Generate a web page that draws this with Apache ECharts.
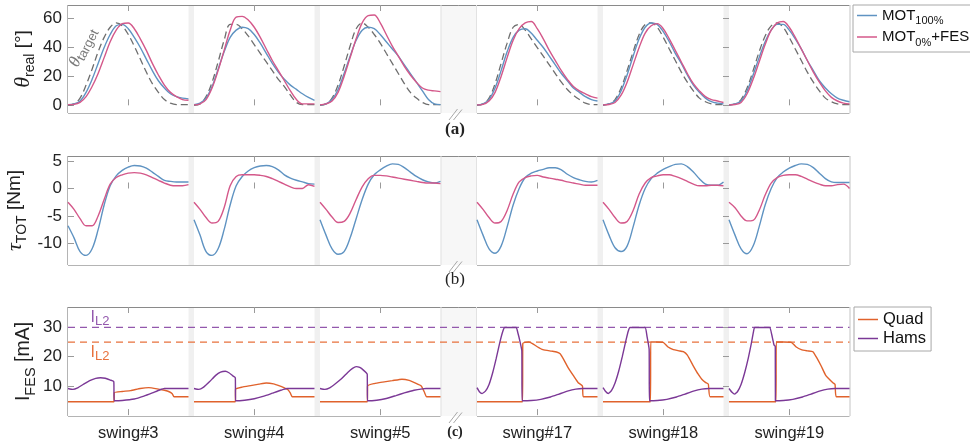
<!DOCTYPE html>
<html>
<head>
<meta charset="utf-8">
<script src="https://cdn.jsdelivr.net/npm/echarts@6.0.0/dist/echarts.min.js"></script>
<style>
  html, body { margin: 0; padding: 0; background: #fff; }
  #chart { width: 970px; height: 445px; }
</style>
</head>
<body>
<div id="chart"></div>
<script>
// ---- data ----
const swingNames = ['swing#3', 'swing#4', 'swing#5', 'swing#17', 'swing#18', 'swing#19'];
const gaitPct = [0, 5, 10, 15, 20, 25, 30, 35, 40, 45, 50, 55, 60, 65, 70, 75, 80, 85, 90, 95, 100];
const thetaTicks = [0, 20, 40, 60];
const tauTicks = [-10, -5, 0, 5];
const iFesTicks = [10, 20, 30];
const limitHams = 30; // purple I_L2
const limitQuad = 25; // orange I_L2

// theta [deg], one row per swing
const thetaTarget = [
  [0, 1, 5, 14, 25, 37, 47, 54, 57, 55, 49, 41, 32, 23, 15, 9, 4, 1.5, 0.5, 0.5, 0.5],
  [0, 1, 6, 16, 30, 45, 56, 56, 53, 48, 42, 36, 30, 24, 18, 13, 7, 2, 0.5, 0.5, 0.5],
  [0, 1, 5, 14, 27, 41, 53, 57, 54, 49, 43, 36, 29, 22, 15, 9, 5, 2, 0.5, 0.5, 0.5],
  [0, 1, 5, 15, 29, 43, 54, 56, 52, 46, 40, 34, 28, 22, 16, 11, 7, 4, 1.5, 0.5, 0.5],
  [0, 1, 4, 12, 24, 37, 49, 56, 57, 54, 47, 39, 31, 23, 16, 10, 5, 2.5, 1, 0.5, 0.5],
  [0, 1, 4, 12, 24, 37, 48, 55, 57, 54, 47, 39, 31, 23, 16, 10, 5, 2.5, 1, 0.5, 0.5]
];
const thetaMot100 = [
  [0.5, 1, 3, 9, 18, 29, 40, 49, 55, 56, 53, 47, 40, 32, 24, 17, 12, 8, 6, 5, 4.5],
  [0.5, 1.5, 5, 13, 25, 37, 47, 52, 54, 53, 49, 43, 36, 29, 23, 18, 14, 11, 8, 5.5, 3.5],
  [0.3, 1, 4, 11, 22, 34, 45, 52, 54, 53, 49, 44, 39, 34, 28, 22, 16, 10, 4, 1, 0.5],
  [0.3, 1, 4, 12, 24, 37, 47, 52, 53, 50, 45, 40, 34, 28, 22, 17, 12, 9, 6, 4, 3],
  [0.3, 1, 3, 10, 21, 34, 46, 54, 57, 56, 51, 44, 36, 29, 21, 14, 9, 5, 2.5, 1.5, 1],
  [0.3, 1, 3, 10, 21, 33, 44, 52, 56, 56, 52, 46, 39, 31, 24, 17, 12, 8, 5, 3.5, 2.5]
];
const thetaMot0Fes = [
  [0.5, 0.7, 2, 6, 13, 22, 33, 44, 52, 56.5, 57, 53, 46, 38, 29, 21, 14, 9, 6, 4, 3.5],
  [0.3, 1, 4, 12, 24, 38, 52, 61, 61.5, 59, 54, 47, 39, 31, 24, 17, 10, 4, 1, 1, 1],
  [0.3, 1, 3, 9, 20, 33, 46, 57, 62, 62.5, 57, 49, 41, 34, 27, 21, 16, 12, 10.5, 10, 9.5],
  [0.3, 0.7, 3, 9, 20, 33, 45, 53, 57, 58, 53, 46, 38, 31, 24, 18, 13, 10, 8, 6, 5],
  [0.3, 0.6, 2, 7, 16, 28, 40, 50, 55, 56.5, 53, 46, 38, 30, 22, 15, 10, 6, 4, 3, 2],
  [0.3, 0.6, 2, 8, 18, 30, 42, 52, 57, 58, 54, 47, 39, 31, 23, 16, 10, 5.5, 3, 1.5, 1]
];

// tau_TOT [Nm]
const tauMot100 = [
  [-6.8, -9, -11.5, -12.2, -11, -7.5, -3, 0.5, 2.3, 3.3, 3.9, 4.2, 4.1, 3.7, 3, 2.2, 1.5, 1.3, 1.2, 1.2, 1.2],
  [-5.7, -8.5, -11.5, -12.2, -11, -7.5, -3, 0.5, 2.2, 3.2, 3.8, 4.1, 4.2, 4, 3.4, 2.5, 1.9, 1.5, 1.2, 0.9, 0.8],
  [-5.7, -8.5, -11, -12, -11.5, -9, -5.5, -2, 0.8, 2.5, 3.4, 4.1, 4.5, 4.4, 3.8, 3, 2.2, 1.6, 1.2, 1, 1.3],
  [-5.7, -8.5, -11, -11.8, -10.5, -7, -3, 0, 2, 2.8, 3.2, 3.5, 3.8, 3.8, 3.4, 2.6, 2, 1.6, 1.3, 1.2, 1.5],
  [-5.7, -8.5, -10.8, -11.5, -10.5, -7, -3, 0, 1.8, 2.8, 3.5, 4, 4.4, 4.5, 4, 3, 1.8, 0.8, 0.6, 0.6, 1.2],
  [-5.7, -8.5, -11, -11.9, -10.5, -7, -3, 0, 2, 3, 3.7, 4.2, 4.5, 4.4, 3.8, 2.8, 1.8, 1.2, 1.1, 1.1, 1.1]
];
const tauMot0Fes = [
  [-2.5, -3.8, -5.5, -6.8, -6.8, -5, -2, 0.8, 2, 2.5, 2.8, 2.9, 2.8, 2.5, 2, 1.5, 1, 0.6, 0.5, 0.5, 0.7],
  [-2.5, -3.8, -5.3, -6.3, -6, -3.5, 0.5, 2.2, 2.5, 2.5, 2.5, 2.4, 2.2, 1.8, 1.3, 0.8, 0.3, 0, 0, 0.7, 0.4],
  [-2.5, -3.8, -5.2, -6.2, -6, -4.5, -2, 0.3, 1.8, 2.4, 2.4, 2.3, 2.1, 1.9, 1.7, 1.5, 1.3, 1.1, 1, 1, 0.9],
  [-2.5, -3.8, -5.3, -6.3, -6, -4, -1, 1.2, 2, 2.3, 2.4, 2.1, 1.9, 1.7, 1.5, 1.2, 1, 0.8, 0.6, 0.6, 0.6],
  [-2.5, -3.8, -5.3, -6.3, -6, -4, -1, 1, 2, 2.3, 2.5, 2.5, 2.2, 1.8, 1.3, 0.8, 0.5, 0.5, 0.6, 0.6, 0.5],
  [-2.5, -3.5, -5, -5.9, -5.8, -4, -1.2, 1, 2, 2.4, 2.5, 2.5, 2.2, 1.7, 1.2, 0.8, 0.5, 0.5, 0.7, 0.8, 0]
];

// I_FES [mA], [% swing, mA]
const iQuad = [
  [[0, 4.6], [38.2, 4.6], [38.4, 7.7], [45, 8.1], [52, 8.4], [60, 9.1], [67, 9.4], [74, 9], [80, 8.5], [84, 8], [86.5, 7.3], [88, 6.3], [100, 6.3]],
  [[0, 4.6], [34.3, 4.6], [34.5, 8.9], [40, 9.6], [47, 10.1], [54, 10.6], [60, 11], [66, 10.7], [71, 10], [75, 9.3], [78, 8.7], [80, 7.5], [81.5, 6.3], [100, 6.3]],
  [[0, 4.6], [39.3, 4.6], [39.5, 10], [45, 10.8], [52, 11.3], [60, 11.8], [68, 12.3], [74, 11.9], [79, 11], [84, 10], [86.5, 8], [88.5, 6.3], [100, 6.3]],
  [[0, 4.6], [37.8, 4.6], [38, 24.5], [40, 24.9], [43, 25], [46, 24.5], [50, 23.4], [54.7, 22.4], [61.7, 21.9], [66, 21.6], [69, 21], [72, 19], [76, 16], [80, 13.5], [84, 11.1], [87.5, 10], [88.2, 6.3], [100, 6.3]],
  [[0, 4.6], [39.4, 4.6], [39.6, 25], [44, 25], [50, 24.9], [54, 23.3], [58.4, 22.4], [63, 22], [66.7, 21.7], [70, 20.5], [75, 16.8], [79, 14], [82, 12.3], [85, 11.2], [87.4, 10.6], [88.8, 6.3], [100, 6.3]],
  [[0, 4.6], [39, 4.6], [39.2, 25], [45, 25], [51.7, 24.9], [55.8, 23.3], [60, 22.4], [65, 22], [69.6, 21.7], [73, 19.5], [76.5, 16.8], [80, 13.8], [82, 12.8], [86.2, 11.1], [88, 10.5], [89, 6.3], [100, 6.3]]
];
const iHams = [
  [[0, 9.1], [4, 8.8], [8, 9.3], [13, 10.6], [18, 11.8], [23, 12.6], [27, 12.8], [31, 12.6], [35, 12], [38, 11.5], [38.3, 4.9], [45, 5], [55, 5.5], [63, 6.5], [70, 7.6], [76, 8.6], [80, 9.1], [100, 9.1]],
  [[0, 9.1], [4, 8.8], [8, 9.6], [13, 11.5], [18, 13.6], [22, 14.7], [26, 15], [29, 14.5], [32, 13.5], [34.3, 12.8], [34.5, 4.9], [42, 5.1], [50, 5.6], [58, 6.5], [65, 7.5], [72, 8.5], [77, 9.1], [100, 9.1]],
  [[0, 9.1], [4, 8.8], [8, 9.3], [13, 10.8], [18, 12.5], [23, 14.6], [27, 16], [30, 16.6], [33, 16.3], [36, 15.4], [39.2, 14], [39.4, 4.9], [47, 5.1], [55, 5.7], [63, 6.7], [70, 7.6], [78, 8.5], [85, 9], [88, 9.1], [100, 9.1]],
  [[0, 9.4], [2, 8], [4.2, 7.4], [7, 8.2], [10, 10.5], [13, 14.5], [16, 19.5], [19, 25], [21.5, 28.8], [23, 30], [32.5, 30], [34, 28], [35.5, 25.5], [37.2, 22], [37.4, 4.9], [45, 5], [53, 5.4], [61, 6.2], [68, 7.2], [75, 8.2], [82, 8.9], [88, 9.1], [100, 9.1]],
  [[0, 9.4], [2, 8.2], [4.4, 7.4], [7, 8.4], [10, 11], [13, 15], [16, 20], [19, 25.5], [21, 28.8], [22.4, 30], [34.9, 30], [36.5, 27], [38.3, 22.5], [38.5, 4.9], [45, 5], [53, 5.4], [61, 6.2], [68, 7.2], [75, 8.2], [82, 8.9], [88, 9.1], [100, 9.1]],
  [[0, 9.1], [2.5, 7.8], [4.7, 7.2], [7, 8], [10, 10.5], [13, 14.5], [16, 19.5], [18.5, 24.5], [20.3, 28.5], [21.3, 30], [33.7, 30], [35.5, 27.5], [37.3, 24.1], [38.4, 23.5], [38.5, 4.9], [45, 5], [53, 5.4], [61, 6.2], [68, 7.2], [75, 8.2], [82, 8.9], [88, 9.1], [100, 9.1]]
];

// ---- layout / style ----
const FONT = '"Liberation Sans", Helvetica, Arial, sans-serif';
const SERIF = '"Liberation Serif", "Times New Roman", serif';
const TXT = '#222';
const AXIS_GRAY = '#9a9a9a';
const C_MOT100 = '#5f93c2';
const C_FES = '#d4588a';
const C_TARGET = '#6e6e6e';
const C_QUAD = '#e0622c';
const C_HAMS = '#7b3896';
const C_LIM_HAMS = '#9358ad';
const C_LIM_QUAD = '#e8713c';

const PANEL_LEFT = [68, 194, 320, 477, 603, 729];
const PANEL_W = 120.5;
const ROW_TOP = [5, 156, 307];
const ROW_H = [108, 109, 109];
const ROW_RANGE = [[-5.3, 69.4], [-13.95, 5.93], [-0.3, 37]];
const ROW_TICKS = [thetaTicks, tauTicks, iFesTicks];
const NAME_GAP = [31, 39, 30];
const ROW_TITLE = ['{t|θ}{s|real}{m| [°]}', '{t|τ}{s|TOT}{m| [Nm]}', '{m|I}{s|FES}{m| [mA]}'];
const TAGS = [['(a)', 'bold', 17, 130], ['(b)', 'normal', 17, 280], ['(c)', 'bold', 14, 432]];

function richTitle(size) {
  return {
    t: { fontSize: size + 3, fontStyle: 'italic', fontFamily: SERIF, lineHeight: 28, color: TXT },
    m: { fontSize: size, fontFamily: FONT, lineHeight: 28, color: TXT },
    s: { fontSize: size - 5, fontFamily: FONT, lineHeight: 14, verticalAlign: 'bottom', color: TXT }
  };
}

const curve = (vals) => vals.map((v, i) => [gaitPct[i], v]);

const grid = [], xAxis = [], yAxis = [], series = [];

for (let r = 0; r < 3; r++) {
  for (let p = 0; p < 6; p++) {
    const g = grid.length;
    grid.push({ left: PANEL_LEFT[p], top: ROW_TOP[r], width: PANEL_W, height: ROW_H[r], outerBoundsMode: 'none' });
    const tick = { show: true, inside: true, length: 6, customValues: [50], lineStyle: { color: AXIS_GRAY, width: 1 } };
    xAxis.push({
      gridIndex: g, type: 'value', min: 0, max: 100, position: 'bottom',
      axisLine: { show: false }, splitLine: { show: false }, axisTick: tick,
      axisLabel: r === 2
        ? { show: true, customValues: [50], formatter: () => swingNames[p], margin: 9, fontSize: 16.5, fontFamily: FONT, color: TXT }
        : { show: false }
    });
    xAxis.push({
      gridIndex: g, type: 'value', min: 0, max: 100, position: 'top',
      axisLine: { show: false }, splitLine: { show: false }, axisTick: tick, axisLabel: { show: false }
    });
    yAxis.push({
      gridIndex: g, type: 'value', min: ROW_RANGE[r][0], max: ROW_RANGE[r][1],
      position: p === 5 ? 'right' : 'left', show: p === 0 || p === 5,
      axisLine: { show: false }, splitLine: { show: false },
      axisTick: { show: true, inside: true, length: 6, customValues: ROW_TICKS[r], lineStyle: { color: AXIS_GRAY } },
      axisLabel: { show: p === 0, customValues: ROW_TICKS[r], margin: 6, fontSize: 17, fontFamily: FONT, color: TXT },
      name: p === 0 ? ROW_TITLE[r] : '', nameLocation: 'middle', nameRotate: 90, nameGap: NAME_GAP[r],
      nameTextStyle: { rich: richTitle(r === 2 ? 19.5 : 19) }
    });
  }
}

// overlay grid over the whole bottom row for the I_L2 limits
const ovl = grid.length;
grid.push({ left: PANEL_LEFT[0], top: ROW_TOP[2], width: PANEL_LEFT[5] + PANEL_W - PANEL_LEFT[0], height: ROW_H[2], outerBoundsMode: 'none' });
xAxis.push({ gridIndex: ovl, type: 'value', min: 0, max: 100, show: false });
yAxis.push({ gridIndex: ovl, type: 'value', min: ROW_RANGE[2][0], max: ROW_RANGE[2][1], show: false });

function line(name, color, g, data, extra) {
  return Object.assign({
    type: 'line', name, xAxisIndex: 2 * g, yAxisIndex: g, data,
    symbol: 'none', showSymbol: false, smooth: 0.35, silent: true, z: 3,
    lineStyle: { color, width: 1.4 }, itemStyle: { color }
  }, extra || {});
}

function tagLabel(text, color, coord, rotate, mainSize, subSize) {
  return {
    symbol: 'circle', symbolSize: 1, silent: true,
    itemStyle: { color: 'rgba(0,0,0,0)' },
    label: {
      show: true, position: 'inside', rotate, formatter: text,
      rich: {
        t: { fontSize: mainSize, fontStyle: 'italic', fontFamily: SERIF, color, lineHeight: 20 },
        m: { fontSize: mainSize, fontFamily: FONT, color, lineHeight: 20 },
        s: { fontSize: subSize, fontFamily: FONT, color, lineHeight: 13, verticalAlign: 'bottom' }
      }
    },
    data: [{ coord }]
  };
}

series.push({
  type: 'line', name: 'limHams', xAxisIndex: 2 * ovl, yAxisIndex: ovl,
  data: [[0, limitHams], [100, limitHams]], symbol: 'none', silent: true, z: 1,
  lineStyle: { color: C_LIM_HAMS, width: 1.2, type: [7, 5] },
  markPoint: tagLabel('{m|I}{s|L2}', C_LIM_HAMS, [4.1, 33.3], 0, 16, 13)
});
series.push({
  type: 'line', name: 'limQuad', xAxisIndex: 2 * ovl, yAxisIndex: ovl,
  data: [[0, limitQuad], [100, limitQuad]], symbol: 'none', silent: true, z: 1,
  lineStyle: { color: C_LIM_QUAD, width: 1.2, type: [7, 5] },
  markPoint: tagLabel('{m|I}{s|L2}', C_LIM_QUAD, [4.1, 21.3], 0, 16, 13)
});

for (let p = 0; p < 6; p++) {
  const tgt = line('target', C_TARGET, p, curve(thetaTarget[p]), {
    z: 2, lineStyle: { color: C_TARGET, width: 1.3, type: [7, 4] }
  });
  if (p === 0) tgt.markPoint = tagLabel('{t|θ}{s|target}', '#7a7a7a', [12.5, 40], 63, 17, 13);
  series.push(tgt);
  series.push(line('MOT100', C_MOT100, p, curve(thetaMot100[p])));
  series.push(line('MOT0FES', C_FES, p, curve(thetaMot0Fes[p])));
  series.push(line('MOT100', C_MOT100, 6 + p, curve(tauMot100[p])));
  series.push(line('MOT0FES', C_FES, 6 + p, curve(tauMot0Fes[p])));
  series.push(line('Quad', C_QUAD, 12 + p, iQuad[p], { smooth: 0.15 }));
  series.push(line('Hams', C_HAMS, 12 + p, iHams[p], { smooth: 0.15 }));
}

// frames, separators, axis-break marks and panel tags
const graphic = [];
const rightEdge = PANEL_LEFT[5] + PANEL_W;
const gapL = PANEL_LEFT[2] + PANEL_W, gapR = PANEL_LEFT[3];
const hline = (x1, x2, y, stroke) => ({ type: 'line', silent: true, shape: { x1, y1: y, x2, y2: y }, style: { stroke, lineWidth: 1 } });
const vline = (x, y1, y2, stroke) => ({ type: 'line', silent: true, shape: { x1: x, y1, x2: x, y2 }, style: { stroke, lineWidth: 1 } });
for (let r = 0; r < 3; r++) {
  const top = ROW_TOP[r], bot = ROW_TOP[r] + ROW_H[r];
  for (let p = 0; p < 5; p++) {
    const x0 = PANEL_LEFT[p] + PANEL_W, x1 = PANEL_LEFT[p + 1];
    graphic.push({ type: 'rect', silent: true, z: -1, shape: { x: x0, y: top, width: x1 - x0, height: bot - top },
      style: { fill: p === 2 ? '#f7f7f7' : '#f0f0f0' } });
  }
  graphic.push(hline(PANEL_LEFT[0], rightEdge, top + 0.5, '#8a8a8a'));
  graphic.push(hline(PANEL_LEFT[0], gapL, bot + 0.5, '#b4b4b4'));
  graphic.push(hline(gapR, rightEdge, bot + 0.5, '#b4b4b4'));
  graphic.push(vline(PANEL_LEFT[0] - 0.5, top, bot, '#b4b4b4'));
  graphic.push(vline(rightEdge + 0.5, top, bot, '#c4c4c4'));
  graphic.push(vline(gapL + 0.5, top, bot, '#e2e2e2'));
  graphic.push(vline(gapR - 0.5, top, bot, '#e2e2e2'));
  graphic.push({ type: 'line', silent: true, shape: { x1: 449, y1: bot + 7, x2: 457.5, y2: bot - 4 }, style: { stroke: '#a8a8a8', lineWidth: 1 } });
  graphic.push({ type: 'line', silent: true, shape: { x1: 453.5, y1: bot + 7, x2: 462, y2: bot - 3.5 }, style: { stroke: '#a8a8a8', lineWidth: 1 } });
  const [tag, weight, size, ty] = TAGS[r];
  graphic.push({ type: 'text', silent: true, x: 455, y: ty,
    style: { text: tag, fontFamily: SERIF, fontWeight: weight, fontSize: size, fill: TXT,
      textAlign: 'center', textVerticalAlign: 'middle', align: 'center', verticalAlign: 'middle' } });
}

const chart = echarts.init(document.getElementById('chart'), null, { renderer: 'canvas' });
chart.setOption({
  animation: false,
  backgroundColor: '#fff',
  grid, xAxis, yAxis, series, graphic,
  legend: [
    {
      data: ['MOT100', 'MOT0FES'], orient: 'vertical', left: 853, top: 5,
      padding: [3, 2, 4, 4], itemGap: 3, itemWidth: 20, itemHeight: 1.5, icon: 'rect',
      borderColor: '#a8a8a8', borderWidth: 1, borderRadius: 0, backgroundColor: '#fff', selectedMode: false,
      formatter: (n) => n === 'MOT100' ? '{m|MOT}{s|100%}' : '{m|MOT}{s|0%}{m|+FES}',
      textStyle: {
        rich: {
          m: { fontSize: 15, fontFamily: FONT, color: '#111', lineHeight: 22 },
          s: { fontSize: 11, fontFamily: FONT, color: '#111', lineHeight: 13, verticalAlign: 'bottom' }
        }
      }
    },
    {
      data: ['Quad', 'Hams'], orient: 'vertical', left: 854, top: 307,
      padding: [3, 5, 3, 4], itemGap: 0, itemWidth: 20, itemHeight: 1.5, icon: 'rect',
      borderColor: '#a8a8a8', borderWidth: 1, borderRadius: 0, backgroundColor: '#fff', selectedMode: false,
      textStyle: { fontSize: 16.5, fontFamily: FONT, color: '#111', lineHeight: 19 }
    }
  ]
});
</script>
</body>
</html>
